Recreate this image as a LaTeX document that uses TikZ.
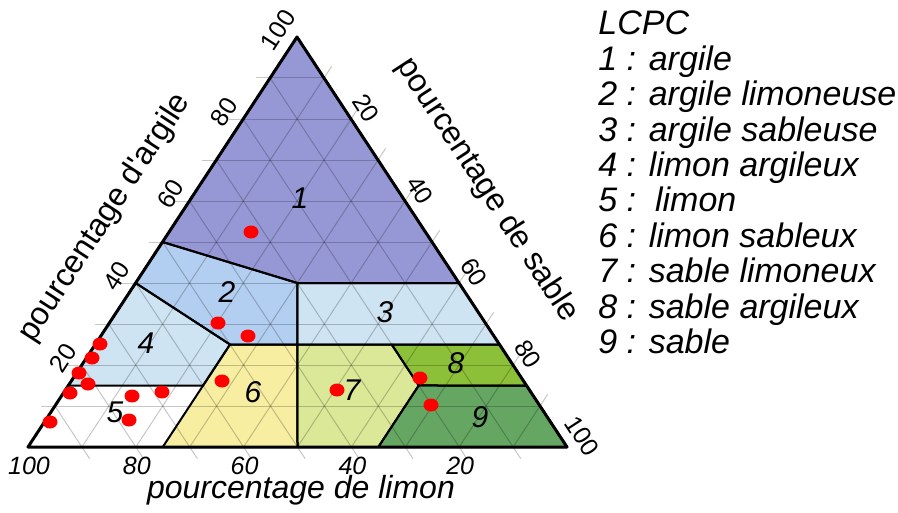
\documentclass[tikz,border=0pt]{standalone}
\usepackage{fontspec}
\setmainfont{Liberation Sans}
\usetikzlibrary{calc,positioning}

\definecolor{zoneone}{RGB}{150,152,214}
\definecolor{zonetwo}{RGB}{178,206,240}
\definecolor{zonethree}{RGB}{206,228,242}
\definecolor{zonesix}{RGB}{247,238,162}
\definecolor{zoneseven}{RGB}{218,232,152}
\definecolor{zoneeight}{RGB}{140,192,56}
\definecolor{zonenine}{RGB}{100,166,98}

\tikzset{
    zone/.style={draw=black, line width=1pt, line join=round},
    gridline/.style={draw=black, opacity=0.22, line width=0.5pt},
    ticklbl/.style={font=\fontsize{12.5}{14}\selectfont, inner sep=0pt},
    zonelbl/.style={font=\fontsize{15}{17}\selectfont\itshape, inner sep=0pt},
    axislbl/.style={font=\fontsize{16}{18}\selectfont, inner sep=0pt},
    legendlbl/.style={font=\fontsize{17}{19}\selectfont\itshape, anchor=base west, inner sep=0pt},
}

\begin{document}
\begin{tikzpicture}[x=0.5pt, y=-0.5pt]
    \useasboundingbox (0,0) rectangle (898,513);

    % Corners: limon, sable, argile
    \coordinate (L) at (28,447);
    \coordinate (S) at (567,447);
    \coordinate (A) at (297,37);

    % Zone vertices (weights as fractions)
    \coordinate (p1) at (barycentric cs:A=.50,L=.50);
    \coordinate (p2) at (barycentric cs:A=.40,S=.30,L=.30);
    \coordinate (p3) at (barycentric cs:A=.40,S=.60);
    \coordinate (p4) at (barycentric cs:A=.40,L=.60);
    \coordinate (p5) at (barycentric cs:A=.25,S=.25,L=.50);
    \coordinate (p6) at (barycentric cs:A=.25,S=.375,L=.375);
    \coordinate (p7) at (barycentric cs:A=.25,S=.55,L=.20);
    \coordinate (p8) at (barycentric cs:A=.25,S=.75);
    \coordinate (p9) at (barycentric cs:A=.15,L=.85);
    \coordinate (p10) at (barycentric cs:A=.15,S=.25,L=.60);
    \coordinate (p11) at (barycentric cs:A=.15,S=.65,L=.20);
    \coordinate (p12) at (barycentric cs:A=.15,S=.85);
    \coordinate (p13) at (barycentric cs:S=.25,L=.75);
    \coordinate (p14) at (barycentric cs:S=.50,L=.50);
    \coordinate (p15) at (barycentric cs:S=.65,L=.35);

    % Zone fills
    \fill[zoneone] (p1) -- (A) -- (p3) -- (p2) -- cycle;
    \fill[zonetwo] (p4) -- (p1) -- (p2) -- (p6) -- (p5) -- cycle;
    \fill[zonethree] (p2) -- (p3) -- (p8) -- (p6) -- cycle;
    \fill[zonethree] (p9) -- (p4) -- (p5) -- (p10) -- cycle;
    \fill[white] (L) -- (p9) -- (p10) -- (p13) -- cycle;
    \fill[zonesix] (p13) -- (p10) -- (p5) -- (p6) -- (p14) -- cycle;
    \fill[zoneseven] (p14) -- (p6) -- (p7) -- (p11) -- (p15) -- cycle;
    \fill[zoneeight] (p7) -- (p8) -- (p12) -- (p11) -- cycle;
    \fill[zonenine] (p15) -- (p11) -- (p12) -- (S) -- cycle;

    % Grid, every 10 %
    \foreach \i [evaluate=\i as \a using \i/10, evaluate=\i as \b using 1-\i/10] in {1,...,9} {
        \coordinate (cl) at (barycentric cs:A=\a,L=\b);
        \coordinate (cr) at (barycentric cs:A=\a,S=\b);
        \coordinate (sb) at (barycentric cs:S=\a,L=\b);
        \coordinate (sr) at (barycentric cs:S=\a,A=\b);
        \coordinate (tb) at (barycentric cs:L=\a,S=\b);
        \coordinate (tl) at (barycentric cs:L=\a,A=\b);
        \draw[gridline] ($(cl)+(-14,0)$) -- (cr);
        \draw[gridline] (sb) -- ($(sr)!-7pt!(sb)$);
        \draw[gridline] ($(tb)!-7pt!(tl)$) -- (tl);
    }

    % Zone borders
    \draw[zone] (p1) -- (A) -- (p3) -- (p2) -- cycle;
    \draw[zone] (p4) -- (p1) -- (p2) -- (p6) -- (p5) -- cycle;
    \draw[zone] (p2) -- (p3) -- (p8) -- (p6) -- cycle;
    \draw[zone] (p9) -- (p4) -- (p5) -- (p10) -- cycle;
    \draw[zone] (p13) -- (p10) -- (p5) -- (p6) -- (p14) -- cycle;
    \draw[zone] (p14) -- (p6) -- (p7) -- (p11) -- (p15) -- cycle;
    \draw[zone] (p7) -- (p8) -- (p12) -- (p11) -- cycle;
    \draw[zone] (p15) -- (p11) -- (p12) -- (S) -- cycle;
    \draw[zone, line width=1.5pt] (L) -- (A) -- (S) -- cycle;

    % Scale labels
    \foreach \v [evaluate=\v as \a using \v/100, evaluate=\v as \b using 1-\v/100] in {20,40,...,100} {
        \node[ticklbl, rotate=57] (cl\v) at ($(barycentric cs:A=\a,L=\b)+(-19,-7)$) {\v};
        \node[ticklbl, rotate=-57] (sd\v) at ($(barycentric cs:S=\a,A=\b)+(15,-11)$) {\v};
        \node[ticklbl, font=\fontsize{12.5}{14}\selectfont\itshape] (sl\v) at ($(barycentric cs:L=\a,S=\b)+(1,19)$) {\v};
    }

    % Axis titles
    \node[axislbl, rotate=57] (argile) at (105,218) {pourcentage d\textquotesingle argile};
    \node[axislbl, rotate=-57] (sable) at (487,190) {pourcentage de sable};
    \node[axislbl, font=\fontsize{16}{18}\selectfont\itshape] (limon) at (301,490) {pourcentage de limon};

    % Zone numbers
    \node[zonelbl] (z1) at (300,198) {1};
    \node[zonelbl] (z2) at (227,292) {2};
    \node[zonelbl] (z3) at (385,312) {3};
    \node[zonelbl] (z4) at (146,343) {4};
    \node[zonelbl] (z5) at (115,412) {5};
    \node[zonelbl] (z6) at (253,392) {6};
    \node[zonelbl] (z7) at (352,390) {7};
    \node[zonelbl] (z8) at (456,363) {8};
    \node[zonelbl] (z9) at (480,417) {9};

    % Samples
    \foreach \pt in {(251,232),(218,323),(248,336),(100,344),(92,358),(79,373),
                     (88,384),(70,393),(132,396),(162,392),(222,381),(50,422),
                     (129,420),(337,390),(420,378),(431,405)} {
        \fill[red] \pt circle [x radius=7.5, y radius=6.5];
    }

    % Legend
    \foreach \txt [count=\k from 0] in {LCPC, 1 : argile, 2 : argile limoneuse,
            3 : argile sableuse, 4 : limon argileux, 5 :\ \ limon, 6 : limon sableux,
            7 : sable limoneux, 8 : sable argileux, 9 : sable} {
        \node[legendlbl] (leg\k) at (598,35+35.4*\k) {\txt};
    }
\end{tikzpicture}
\end{document}
